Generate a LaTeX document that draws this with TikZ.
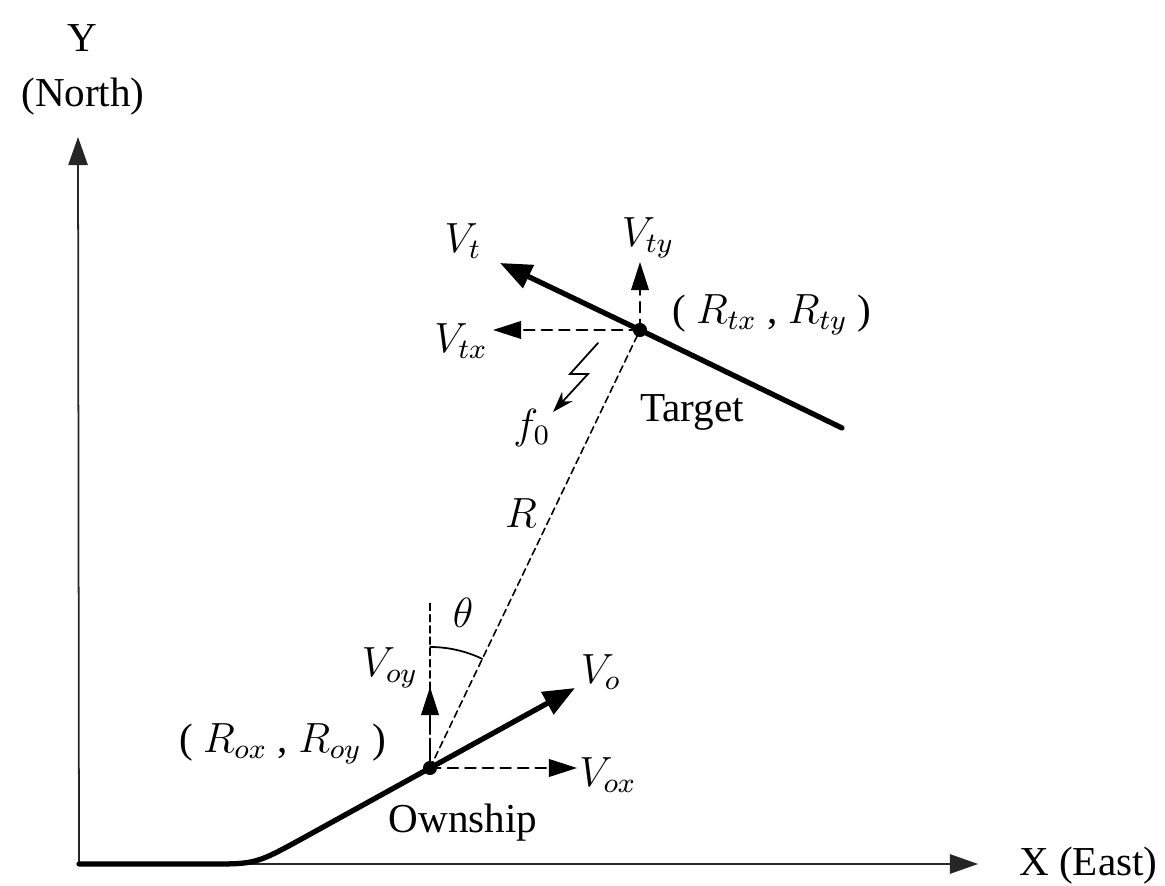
\documentclass[tikz,border=0pt]{standalone}
\usepackage{amsmath}
\usepackage{fontspec}
\setmainfont{Liberation Serif}
\usepackage{tikz}
\usetikzlibrary{arrows.meta, positioning, calc}
\tikzset{
    axis/.style={line width=0.5pt, draw=black!85, -{Triangle[length=8pt, width=5.5pt]}},
    track/.style={line width=1.5pt, draw=black},
    comp/.style={line width=0.6pt, dashed, dash pattern=on 3pt off 2pt, -{Triangle[length=8pt, width=5pt]}},
    refline/.style={line width=0.45pt, dash pattern=on 2pt off 1.2pt},
    dot/.style={circle, fill=black, inner sep=0pt, minimum size=4pt},
    lbl/.style={inner sep=1pt, font=\fontsize{11.7}{14}\selectfont}
}

\begin{document}
\begin{tikzpicture}[x=0.01cm, y=0.01cm, line cap=round]
        \useasboundingbox (0,0) rectangle (1165,886);

        % -----------------------------------------------------------------
        % ASSI
        % -----------------------------------------------------------------
        \coordinate (orig) at (79,22);
        \coordinate (ytip) at (78,749);
        \coordinate (xtip) at (978,22);
        \draw[axis] (orig) -- (ytip);
        \draw[axis] (orig) -- (xtip);
        \node[lbl] (ylab) at (82,848) {Y};
        \node[lbl] (north) at (83,789) {(North)};
        \node[lbl, anchor=west] (xlab) at (1015,20) {X (East)};

        % -----------------------------------------------------------------
        % OWNSHIP
        % -----------------------------------------------------------------
        \coordinate (own) at (430,118);
        \coordinate (votip) at (575,198);
        \coordinate (voxtip) at (577,118);
        \coordinate (voytip) at (430,199);
        \coordinate (vref) at (430,286);
        \draw[track] (orig) -- (210,22) .. controls (256,22) .. (306,49.5) -- (own);
        \draw[track, -{Triangle[length=9pt, width=7pt]}] (own) -- (votip);
        \draw[comp] (own) -- (voxtip);
        \draw[comp] (own) -- (voytip);
        \draw[refline] (own) -- (vref);
        \node[lbl] (vo) at (601,214) {$V_{o}$};
        \node[lbl] (vox) at (608,111) {$V_{ox}$};
        \node[lbl] (voy) at (390,218) {$V_{oy}$};
        \node[lbl, anchor=east] (ownpos) at (390,142) {( $R_{ox}$ , $R_{oy}$ )};
        \node[lbl] (ownlab) at (463,63) {Ownship};

        % -----------------------------------------------------------------
        % TARGET
        % -----------------------------------------------------------------
        \coordinate (tgt) at (640,556);
        \coordinate (vttip) at (500,623);
        \coordinate (tend) at (842,458);
        \coordinate (vtxtip) at (493,556);
        \coordinate (vtytip) at (640,624);
        \draw[track] (tend) -- (tgt);
        \draw[track, -{Triangle[length=9pt, width=7pt]}] (tgt) -- (vttip);
        \draw[comp] (tgt) -- (vtxtip);
        \draw[comp] (tgt) -- (vtytip);
        \node[lbl] (vt) at (463,645) {$V_{t}$};
        \node[lbl] (vtx) at (461,545) {$V_{tx}$};
        \node[lbl] (vty) at (648,648) {$V_{ty}$};
        \node[lbl, anchor=west] (tgtpos) at (668,571) {( $R_{tx}$ , $R_{ty}$ )};
        \node[lbl] (tgtlab) at (692,474) {Target};

        % -----------------------------------------------------------------
        % DISTANZA E ANGOLO
        % -----------------------------------------------------------------
        \draw[refline] (own) -- (tgt);
        \node[lbl] (rlab) at (521,373) {$R$};
        \draw[line width=0.5pt] ($(own)+(90:121)$) arc[start angle=90, end angle=64.4, radius=121];
        \node[lbl] (theta) at (463,273) {$\theta$};

        % segnale f0
        \draw[line width=0.5pt, -{Stealth[length=6pt, width=4pt]}] (598,543) -- (570,512) -- (588,512) -- (553,474);
        \node[lbl] (f0) at (532,458) {$f_0$};

        \node[dot] (ownpt) at (own) {};
        \node[dot] (tgtpt) at (tgt) {};

    \end{tikzpicture}
\end{document}
